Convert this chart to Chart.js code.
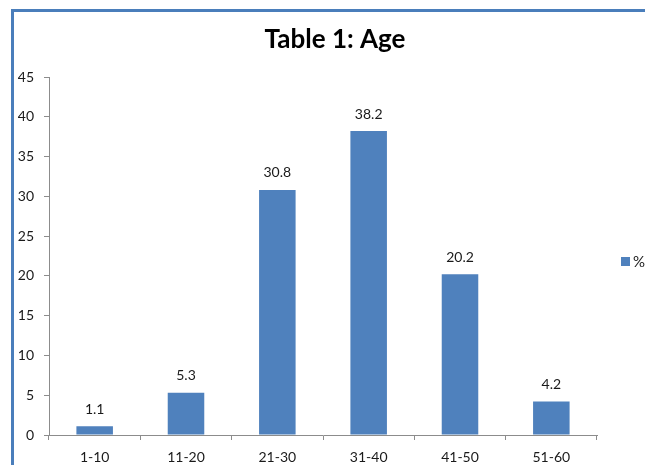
<!DOCTYPE html>
<html>
<head>
<meta charset="utf-8">
<script src="https://cdn.jsdelivr.net/npm/chart.js@4/dist/chart.umd.min.js"></script>
<style>
  html, body { margin: 0; padding: 0; background: #fff; overflow: hidden; }
  #wrap { position: relative; width: 645px; height: 465px; }
  #frame { position: absolute; left: 11px; top: 9px; width: 700px; height: 500px;
           border-left: 3px solid #4a7ebb; border-top: 3px solid #4a7ebb; }
  canvas { position: absolute; left: 0; top: 0; }
</style>
</head>
<body>
<div id="wrap">
  <div id="frame"></div>
  <canvas id="c" width="645" height="465"></canvas>
</div>
<script>
const categories = ['1-10', '11-20', '21-30', '31-40', '41-50', '51-60'];
const percentages = [1.1, 5.3, 30.8, 38.2, 20.2, 4.2];
const seriesLabel = '%';
const chartTitle = 'Table 1: Age';
const yTicks = [0, 5, 10, 15, 20, 25, 30, 35, 40, 45];

const FONT = 'Lato, "Open Sans", sans-serif';
const BAR = '#4f81bd';
const AXIS = '#8c8c8c';
const TEXT = '#1a1a1a';

// heading centred over the whole frame (including the key column)
const heading = {
  id: 'heading',
  afterDraw(chart) {
    const ctx = chart.ctx;
    ctx.save();
    ctx.font = 'bold 26px ' + FONT;
    ctx.fillStyle = '#000';
    ctx.textAlign = 'center';
    ctx.textBaseline = 'alphabetic';
    ctx.fillText(chartTitle, 335, 48);
    ctx.restore();
  }
};

// value labels above each bar
const valueLabels = {
  id: 'valueLabels',
  afterDatasetsDraw(chart) {
    const ctx = chart.ctx;
    const meta = chart.getDatasetMeta(0);
    ctx.save();
    ctx.font = '14px ' + FONT;
    ctx.fillStyle = TEXT;
    ctx.textAlign = 'center';
    ctx.textBaseline = 'middle';
    meta.data.forEach((bar, i) => {
      ctx.fillText(String(chart.data.datasets[0].data[i]), bar.x, bar.y - 17);
    });
    ctx.restore();
  }
};

// series key on the right side
const sideKey = {
  id: 'sideKey',
  afterDraw(chart) {
    const ctx = chart.ctx;
    const ds = chart.data.datasets[0];
    ctx.save();
    ctx.fillStyle = ds.backgroundColor;
    ctx.fillRect(621, 257, 9, 9);
    ctx.font = '15px ' + FONT;
    ctx.fillStyle = TEXT;
    ctx.textAlign = 'left';
    ctx.textBaseline = 'middle';
    ctx.fillText(ds.label, 633, 262);
    ctx.restore();
  }
};

new Chart(document.getElementById('c'), {
  type: 'bar',
  data: {
    labels: categories,
    datasets: [{
      label: seriesLabel,
      data: percentages,
      backgroundColor: BAR,
      borderWidth: 0,
      categoryPercentage: 1.0,
      barPercentage: 0.4
    }]
  },
  options: {
    responsive: false,
    animation: false,
    layout: { padding: { left: 0, right: 48, top: 77, bottom: 0 } },
    plugins: {
      legend: { display: false },
      tooltip: { enabled: false },
      title: { display: false }
    },
    scales: {
      x: {
        offset: true,
        grid: { display: true, offset: true, drawOnChartArea: false, color: AXIS, tickLength: 5 },
        border: { color: AXIS, width: 1 },
        ticks: { color: TEXT, font: { family: FONT, size: 14 }, padding: 9 },
        afterFit(scale) { scale.height = 30; }
      },
      y: {
        min: 0,
        max: 45,
        afterBuildTicks(scale) { scale.ticks = yTicks.map(v => ({ value: v })); },
        grid: { display: true, drawOnChartArea: false, color: AXIS, tickLength: 5 },
        border: { color: AXIS, width: 1 },
        ticks: { color: TEXT, font: { family: FONT, size: 14 }, padding: 10 },
        afterFit(scale) { scale.width = 49; }
      }
    }
  },
  plugins: [valueLabels, sideKey, heading]
});
</script>
</body>
</html>
